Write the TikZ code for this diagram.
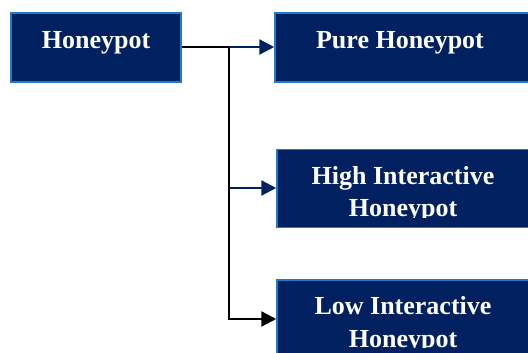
\documentclass[tikz,border=0pt]{standalone}
\usepackage{fontspec}
\setmainfont{Liberation Serif}
\usetikzlibrary{arrows.meta}
\definecolor{navy}{HTML}{002060}
\definecolor{edgeblue}{HTML}{1F7ACB}
\tikzset{
  boxstyle/.style={draw=edgeblue, line width=1.5pt, fill=navy, inner sep=0pt},
  lbl/.style={text=white, font=\fontsize{26}{32}\selectfont\bfseries, inner sep=0pt, anchor=base},
  conn/.style={line width=2.3pt},
  tip/.style={-{Triangle[length=15pt,width=15pt]}},
}
\begin{document}
\begin{tikzpicture}[x=1pt,y=1pt]
\useasboundingbox (0,0) rectangle (528,-353);
\clip (0,0) rectangle (528,-353);
% boxes
\node[boxstyle, minimum width=170pt, minimum height=69pt] (hp) at (96,-47.5) {};
\node[boxstyle, minimum width=255pt, minimum height=69pt] (pure) at (402.5,-47.5) {};
\node[boxstyle, minimum width=253pt, minimum height=78pt] (hi) at (403.5,-188.5) {};
\node[boxstyle, minimum width=253pt, minimum height=80pt] (lo) at (403.5,-320) {};
% labels
\node[lbl] (hpT) at (96,-49) {Honeypot};
\node[lbl] (pureT) at (400,-49) {Pure Honeypot};
\begin{scope}
\clip (277,-150) rectangle (530,-217);
\node[lbl] (hiT1) at (403,-184) {High Interactive};
\node[lbl] (hiT2) at (403,-216) {Honeypot};
\end{scope}
\begin{scope}
\clip (277,-280) rectangle (530,-347.5);
\node[lbl] (loT1) at (403,-314) {Low Interactive};
\node[lbl] (loT2) at (403,-347) {Honeypot};
\end{scope}
% junctions
\coordinate (j1) at (229,-47);
\coordinate (j2) at (229,-188);
\coordinate (j3) at (229,-319);
% connectors
\draw[conn, black] (hp.east |- j1) -- (j1);
\draw[conn, black, line cap=rect] (j1) -- (j3);
\draw[conn, navy, tip] (j1) -- (j1 -| pure.west);
\draw[conn, navy, tip] (j2) -- (j2 -| hi.west);
\draw[conn, black, tip] (j3) -- (j3 -| lo.west);
\end{tikzpicture}
\end{document}
